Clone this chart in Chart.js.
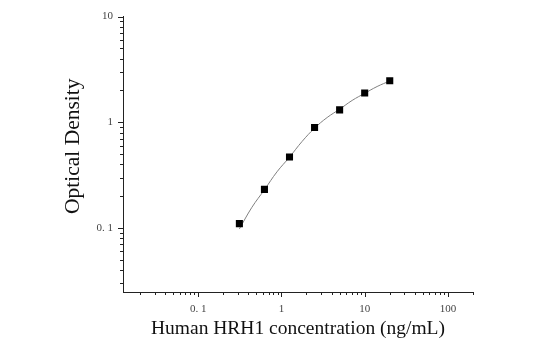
<!DOCTYPE html>
<html>
<head>
<meta charset="utf-8">
<script src="https://cdn.jsdelivr.net/npm/chart.js@4/dist/chart.umd.min.js"></script>
<style>
  html, body { margin: 0; padding: 0; background: #fff; }
  #wrap { width: 550px; height: 356px; }
</style>
</head>
<body>
<div id="wrap"><canvas id="c" width="550" height="356"></canvas></div>
<script>
// ---- data ----
const concentrations = [0.3125, 0.625, 1.25, 2.5, 5, 10, 20];
const odValues = [0.110, 0.232, 0.470, 0.893, 1.31, 1.89, 2.47];
// fitted standard curve
const curveX = [0.3125, 0.442, 0.625, 0.884, 1.25, 1.77, 2.5, 3.54, 5, 7.07, 10, 14.1, 20];
const curveY = [0.098, 0.157, 0.230, 0.340, 0.468, 0.659, 0.880, 1.11, 1.33, 1.61, 1.88, 2.18, 2.46];
// axis tick labels
const xTickValues = [0.1, 1, 10, 100];
const xTickLabels = ['0. 1', '1', '10', '100'];
const yTickValues = [0.1, 1, 10];
const yTickLabels = ['0. 1', '1', '10'];
const xTitle = 'Human HRH1 concentration (ng/mL)';
const yTitle = '   Optical Density';
const xRange = [0.0125, 200];
const yRange = [0.0248, 10];

const SERIF = '"Liberation Serif", "Times New Roman", serif';
const AXIS_COLOR = '#222';

const minorTicks = {
  id: 'minorTicks',
  afterDraw(chart) {
    const ctx = chart.ctx;
    ctx.save();
    ctx.strokeStyle = AXIS_COLOR;
    ctx.lineWidth = 1;
    const xs = chart.scales.x, ys = chart.scales.y;
    const ca = chart.chartArea;
    for (let e = -3; e <= 3; e++) {
      for (let m = 1; m <= 9; m++) {
        const v = m * Math.pow(10, e);
        const len = m === 1 ? 5 : 3;
        if (v >= xs.min && v <= xs.max) {
          const px = Math.round(xs.getPixelForValue(v)) + 0.5;
          ctx.beginPath();
          ctx.moveTo(px, ca.bottom);
          ctx.lineTo(px, ca.bottom + len);
          ctx.stroke();
        }
        if (v >= ys.min && v <= ys.max) {
          const py = Math.round(ys.getPixelForValue(v)) + 0.5;
          ctx.beginPath();
          ctx.moveTo(ca.left, py);
          ctx.lineTo(ca.left - len, py);
          ctx.stroke();
        }
      }
    }
    ctx.restore();
  }
};

new Chart(document.getElementById('c'), {
  type: 'scatter',
  data: {
    datasets: [
      {
        label: 'fit',
        data: curveX.map((x, i) => ({ x: x, y: curveY[i] })),
        showLine: true,
        borderColor: '#808080',
        borderWidth: 1,
        pointRadius: 0,
        tension: 0.4,
        order: 2
      },
      {
        label: 'standards',
        data: concentrations.map((x, i) => ({ x: x, y: odValues[i] })),
        showLine: false,
        pointStyle: 'rect',
        pointRadius: 5,
        pointBackgroundColor: '#000',
        pointBorderColor: '#000',
        pointBorderWidth: 0,
        order: 1
      }
    ]
  },
  plugins: [minorTicks],
  options: {
    responsive: false,
    animation: false,
    layout: { padding: { left: 0, right: 77, top: 15, bottom: 0 } },
    plugins: { legend: { display: false }, tooltip: { enabled: false } },
    scales: {
      x: {
        type: 'logarithmic',
        min: xRange[0],
        max: xRange[1],
        afterBuildTicks(scale) { scale.ticks = xTickValues.map(v => ({ value: v })); },
        afterFit(scale) { scale.height = 64; },
        grid: { display: false, drawTicks: false },
        border: { display: true, color: AXIS_COLOR, width: 1 },
        ticks: {
          autoSkip: false,
          maxRotation: 0,
          padding: 11,
          color: '#444',
          font: { family: SERIF, size: 11 },
          callback: (v) => { const i = xTickValues.indexOf(v); return i >= 0 ? xTickLabels[i] : ''; }
        },
        title: {
          display: true,
          text: xTitle,
          color: '#111',
          padding: { top: 0, bottom: 15 },
          font: { family: SERIF, size: 19.5 }
        }
      },
      y: {
        type: 'logarithmic',
        min: yRange[0],
        max: yRange[1],
        afterBuildTicks(scale) { scale.ticks = yTickValues.map(v => ({ value: v })); },
        afterFit(scale) { scale.width = 123; },
        grid: { display: false, drawTicks: false },
        border: { display: true, color: AXIS_COLOR, width: 1 },
        ticks: {
          autoSkip: false,
          padding: 10,
          color: '#444',
          font: { family: SERIF, size: 11 },
          callback: (v) => { const i = yTickValues.indexOf(v); return i >= 0 ? yTickLabels[i] : ''; }
        },
        title: {
          display: true,
          text: yTitle,
          color: '#111',
          padding: { top: 60, bottom: 0 },
          font: { family: SERIF, size: 21.5 }
        }
      }
    }
  }
});
</script>
</body>
</html>
